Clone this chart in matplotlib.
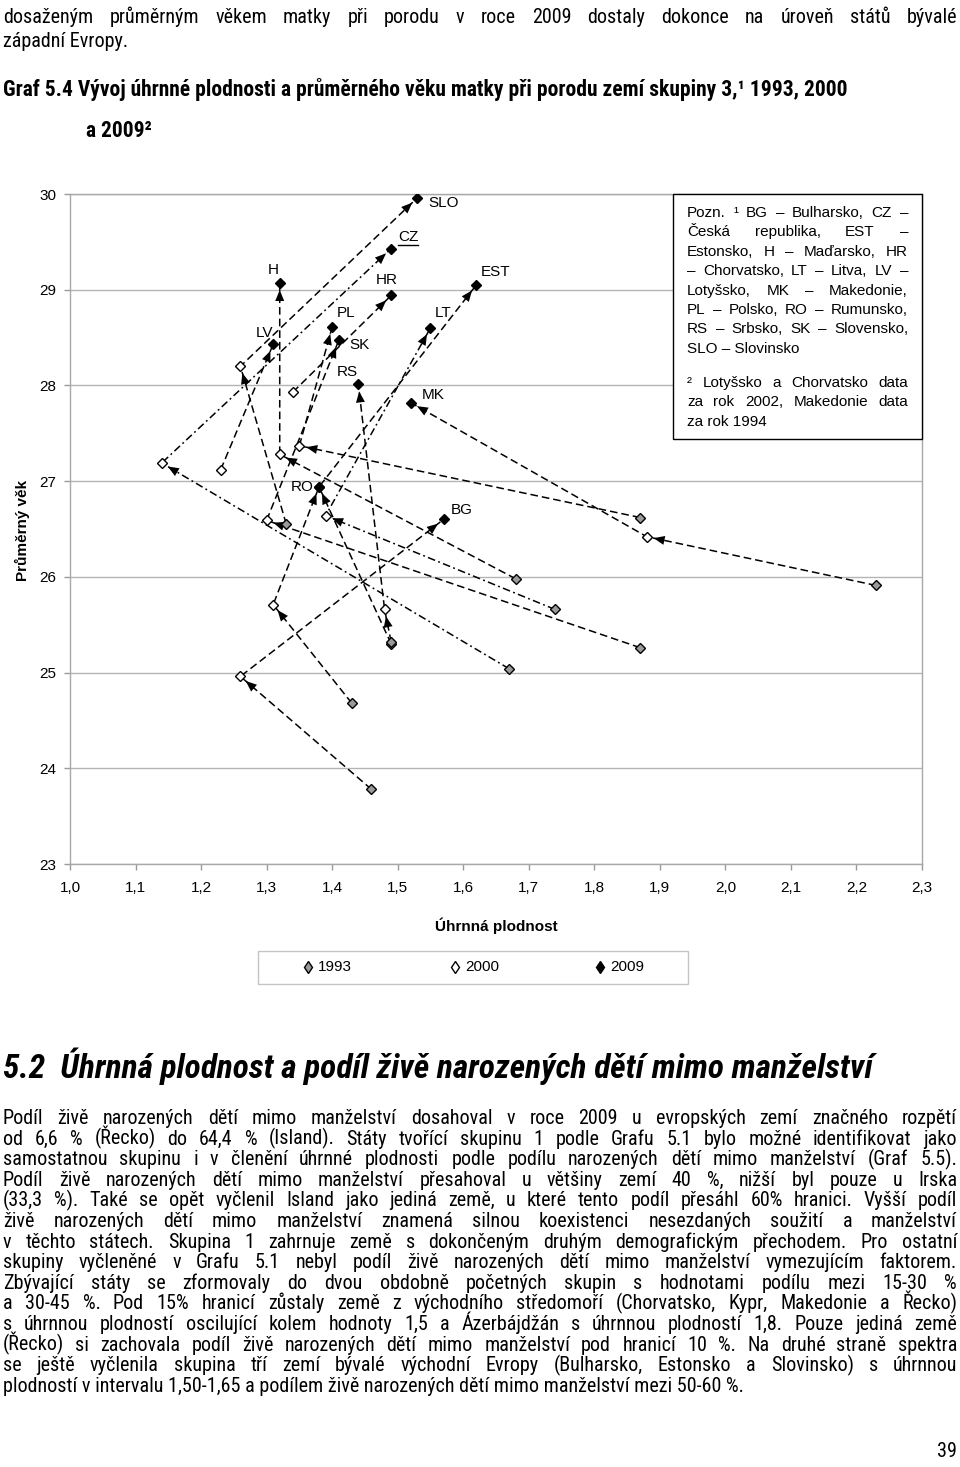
import numpy as np
import matplotlib
matplotlib.use('Agg')
import matplotlib.pyplot as plt
from matplotlib import font_manager as fm
from matplotlib.patches import Rectangle
from matplotlib.lines import Line2D

# --- data (TFR, mean age of mother) ---
countries = ['BG', 'CZ', 'EST', 'H', 'HR', 'LT', 'LV', 'MK', 'PL', 'RO', 'RS', 'SK', 'SLO']
tfr_1993 = [1.46, 1.67, 1.49, 1.68, None, 1.74, None, 2.23, 1.87, 1.43, 1.49, 1.87, 1.33]
age_1993 = [23.78, 25.04, 25.30, 25.98, None, 25.66, None, 25.91, 26.62, 24.68, 25.32, 25.26, 26.55]
tfr_2000 = [1.26, 1.14, 1.38, 1.32, 1.34, 1.39, 1.23, 1.88, 1.35, 1.31, 1.48, 1.30, 1.26]
age_2000 = [24.96, 27.19, 26.94, 27.28, 27.93, 26.64, 27.12, 26.42, 27.37, 25.71, 25.66, 26.59, 28.20]
tfr_2009 = [1.57, 1.49, 1.62, 1.32, 1.49, 1.55, 1.31, 1.52, 1.40, 1.38, 1.44, 1.41, 1.53]
age_2009 = [26.60, 29.43, 29.05, 29.07, 28.94, 28.60, 28.43, 27.82, 28.61, 26.94, 28.01, 28.47, 29.96]
dashdot_countries = ['CZ', 'LT']

x_ticks = [1.0, 1.1, 1.2, 1.3, 1.4, 1.5, 1.6, 1.7, 1.8, 1.9, 2.0, 2.1, 2.2, 2.3]
y_ticks = [23, 24, 25, 26, 27, 28, 29, 30]
legend_years = ['1993', '2000', '2009']

# label offsets (pixels) from the 2009 marker
label_off = {'BG': (18, 9), 'CZ': (17, 12), 'EST': (19, 13), 'H': (-6, 13), 'HR': (-4, 15),
             'LT': (13, 15), 'LV': (-9, 11), 'MK': (22, 8), 'PL': (14, 14), 'RO': (-17, 0),
             'RS': (-11, 12), 'SK': (21, -5), 'SLO': (26, -5)}

# --- page texts ---
top_line1 = 'dosaženým průměrným věkem matky při porodu v roce 2009 dostaly dokonce na úroveň států bývalé'
top_line2 = 'západní Evropy.'
graf_title = 'Graf 5.4 Vývoj úhrnné plodnosti a průměrného věku matky při porodu zemí skupiny 3,¹ 1993, 2000'
graf_title2 = 'a 2009²'
section_title = '5.2  Úhrnná plodnost a podíl živě narozených dětí mimo manželství'
paragraph = [
    'Podíl živě narozených dětí mimo manželství dosahoval v roce 2009 u evropských zemí značného rozpětí',
    'od 6,6 % (Řecko) do 64,4 % (Island). Státy tvořící skupinu 1 podle Grafu 5.1 bylo možné identifikovat jako',
    'samostatnou skupinu i v členění úhrnné plodnosti podle podílu narozených dětí mimo manželství (Graf 5.5).',
    'Podíl živě narozených dětí mimo manželství přesahoval u většiny zemí 40 %, nižší byl pouze u Irska',
    '(33,3 %). Také se opět vyčlenil Island jako jediná země, u které tento podíl přesáhl 60% hranici. Vyšší podíl',
    'živě narozených dětí mimo manželství znamená silnou koexistenci nesezdaných soužití a manželství',
    'v těchto státech. Skupina 1 zahrnuje země s dokončeným druhým demografickým přechodem. Pro ostatní',
    'skupiny vyčleněné v Grafu 5.1 nebyl podíl živě narozených dětí mimo manželství vymezujícím faktorem.',
    'Zbývající státy se zformovaly do dvou obdobně početných skupin s hodnotami podílu mezi 15-30 %',
    'a 30-45 %. Pod 15% hranicí zůstaly země z východního středomoří (Chorvatsko, Kypr, Makedonie a Řecko)',
    's úhrnnou plodností oscilující kolem hodnoty 1,5 a Ázerbájdžán s úhrnnou plodností 1,8. Pouze jediná země',
    '(Řecko) si zachovala podíl živě narozených dětí mimo manželství pod hranicí 10 %. Na druhé straně spektra',
    'se ještě vyčlenila skupina tří zemí bývalé východní Evropy (Bulharsko, Estonsko a Slovinsko) s úhrnnou',
    'plodností v intervalu 1,50-1,65 a podílem živě narozených dětí mimo manželství mezi 50-60 %.',
]
note_lines = [
    'Pozn. ¹ BG – Bulharsko, CZ –',
    'Česká republika, EST –',
    'Estonsko, H – Maďarsko, HR',
    '– Chorvatsko, LT – Litva, LV –',
    'Lotyšsko, MK – Makedonie,',
    'PL – Polsko, RO – Rumunsko,',
    'RS – Srbsko, SK – Slovensko,',
    'SLO – Slovinsko',
]
note_lines2 = [
    '² Lotyšsko a Chorvatsko data',
    'za rok 2002, Makedonie data',
    'za rok 1994',
]

plt.rcParams['font.family'] = ['Liberation Sans', 'DejaVu Sans']


def pick_narrow():
    entries = fm.fontManager.ttflist
    names = {f.name for f in entries}
    for p in ['Liberation Sans Narrow', 'Arial Narrow', 'Roboto Condensed', 'Noto Sans Condensed',
              'Open Sans Condensed', 'DejaVu Sans Condensed']:
        if p in names:
            return dict(family=[p, 'DejaVu Sans'])
    for fam in ['Noto Sans', 'Roboto', 'DejaVu Sans', 'Open Sans', 'Liberation Sans']:
        for f in entries:
            if f.name == fam and f.stretch == 'condensed':
                return dict(family=[fam, 'DejaVu Sans'], stretch='condensed')
    return None


narrow = pick_narrow()
body_kw = narrow if narrow else dict(family=['Liberation Sans', 'DejaVu Sans'])

W, H = 960, 1467
fig = plt.figure(figsize=(W / 100, H / 100), dpi=100)
renderer = fig.canvas.get_renderer()


def fx(x):
    return x / W


def fy(y):
    return 1 - y / H


def text_width(s, **kw):
    t = fig.text(0, 0, s, **kw)
    w = t.get_window_extent(renderer=renderer).width
    t.remove()
    return w


def fit_size(lines, target, base, cap, **kw):
    worst = max(text_width(l, size=base, **kw) for l in lines)
    return min(cap, base * target * 0.99 / worst)


def put_justified(line, x0, x1, yb, **kw):
    words = line.split(' ')
    ws = [text_width(w, **kw) for w in words]
    gap = (x1 - x0 - sum(ws)) / max(len(words) - 1, 1)
    x = x0
    for w, wd in zip(words, ws):
        fig.text(fx(x), fy(yb), w, ha='left', va='baseline', **kw)
        x += wd + gap


# --- chart ---
ax = fig.add_axes([fx(70), fy(864), (922 - 70) / W, (864 - 194) / H])
ax.set_xlim(1.0, 2.3)
ax.set_ylim(23, 30)
ax.set_xticks(x_ticks)
ax.set_xticklabels([f'{v:.1f}'.replace('.', ',') for v in x_ticks])
ax.set_yticks(y_ticks)
ax.tick_params(axis='both', colors='#9a9a9a', labelcolor='black', labelsize=11, length=4, width=1)
ax.tick_params(axis='x', pad=8)
ax.tick_params(axis='y', pad=6)
for s in ax.spines.values():
    s.set_color('#a8a8a8')
    s.set_linewidth(1)
for y in y_ticks:
    ax.axhline(y, color='#b4b4b4', lw=1, zorder=0)


def arrow_head(p0, p1, gap=7, length=11, half=4.5):
    T = ax.transData
    a = T.transform(p0)
    b = T.transform(p1)
    d = b - a
    u = d / np.hypot(*d)
    v = np.array([-u[1], u[0]])
    tip = b - u * gap
    base = tip - u * length
    pts = T.inverted().transform(np.array([tip, base + v * half, base - v * half]))
    ax.fill(pts[:, 0], pts[:, 1], color='black', lw=0, zorder=4)


for i, c in enumerate(countries):
    ls = (0, (5, 2.2, 1.2, 2.2)) if c in dashdot_countries else (0, (5, 2.6))
    pts = []
    if tfr_1993[i] is not None:
        pts.append((tfr_1993[i], age_1993[i]))
    pts.append((tfr_2000[i], age_2000[i]))
    pts.append((tfr_2009[i], age_2009[i]))
    xs, ys = zip(*pts)
    ax.plot(xs, ys, color='black', lw=1.1, linestyle=ls, zorder=3)
    for p0, p1 in zip(pts[:-1], pts[1:]):
        arrow_head(p0, p1)

mk = dict(marker='D', ms=5, mew=1, mec='black', linestyle='none', zorder=5)
ax.plot([v for v in tfr_1993 if v is not None], [v for v in age_1993 if v is not None], mfc='#9a9a9a', **mk)
ax.plot(tfr_2000, age_2000, mfc='white', **mk)
ax.plot(tfr_2009, age_2009, mfc='black', **mk)

labels = {}
for i, c in enumerate(countries):
    dx, dy = label_off[c]
    labels[c] = ax.annotate(c, (tfr_2009[i], age_2009[i]), xytext=(dx, dy), textcoords='offset pixels',
                            ha='center', va='center', fontsize=11, zorder=6)

# the CZ label is underlined in the source
bb = labels['CZ'].get_window_extent(renderer=renderer)
fig.add_artist(Line2D([bb.x0 / W, bb.x1 / W], [(bb.y0 - 1) / H, (bb.y0 - 1) / H],
                      color='black', lw=1))

fig.text(fx(22), fy(530), 'Průměrný věk', rotation=90, ha='center', va='center',
         fontsize=11, fontweight='bold')
fig.text(fx(496), fy(926), 'Úhrnná plodnost', ha='center', va='center', fontsize=11, fontweight='bold')

# legend
lax = fig.add_axes([fx(257), fy(984), (688 - 257) / W, (984 - 950) / H])
lax.set_xlim(257, 688)
lax.set_ylim(984, 950)
lax.axis('off')
lax.add_patch(Rectangle((257.5, 950.5), 430, 33, fc='white', ec='#c4c4c4', lw=1, clip_on=False))
leg_fill = ['#9a9a9a', 'white', 'black']
leg_x = [308, 455, 600]
for yr, fc, lx in zip(legend_years, leg_fill, leg_x):
    lax.plot([lx], [967], marker='d', ms=6.5, mfc=fc, mec='black', mew=1, linestyle='none')
    lax.text(lx + 10, 967, yr, ha='left', va='center', fontsize=11)

# note box
fig.add_artist(Rectangle((fx(673), fy(439)), (922 - 673) / W, (439 - 194) / H,
                         transform=fig.transFigure, fc='white', ec='black', lw=1, zorder=5))
note_kw = dict(family=['Liberation Sans', 'DejaVu Sans'], zorder=6)
note_size = fit_size(note_lines[:-1] + note_lines2[:-1], 221, 10.8, 11, **note_kw)
for k, line in enumerate(note_lines):
    yb = 217 + 19.4 * k
    if k < len(note_lines) - 1:
        put_justified(line, 687, 908, yb, size=note_size, **note_kw)
    else:
        fig.text(fx(687), fy(yb), line, va='baseline', size=note_size, **note_kw)
for k, line in enumerate(note_lines2):
    yb = 387 + 19.4 * k
    if k < len(note_lines2) - 1:
        put_justified(line, 687, 908, yb, size=note_size, **note_kw)
    else:
        fig.text(fx(687), fy(yb), line, va='baseline', size=note_size, **note_kw)

# --- page text ---
body_size = fit_size([top_line1] + paragraph[:-1], 954, 12.5, 14.5, **body_kw)
put_justified(top_line1, 3, 957, 23, size=body_size, **body_kw)
fig.text(fx(3), fy(47), top_line2, va='baseline', size=body_size, **body_kw)

head_kw = dict(body_kw, weight='bold')
w_head = text_width(graf_title, size=12, **head_kw)
head_size = min(15.5, 12 * 923 / w_head)
fig.text(fx(3), fy(96), graf_title, va='baseline', size=head_size, **head_kw)
fig.text(fx(86), fy(137), graf_title2, va='baseline', size=head_size, **head_kw)

sec_kw = dict(body_kw, weight='bold', style='italic')
w_sec = text_width(section_title, size=19, **sec_kw)
sec_size = min(24, 19 * 875 / w_sec)
fig.text(fx(3), fy(1078), section_title, va='baseline', size=sec_size, **sec_kw)

for k, line in enumerate(paragraph):
    yb = 1124 + 20.6 * k
    if k < len(paragraph) - 1:
        put_justified(line, 3, 957, yb, size=body_size, **body_kw)
    else:
        fig.text(fx(3), fy(yb), line, va='baseline', size=body_size, **body_kw)

fig.text(fx(957), fy(1457), '39', ha='right', va='baseline', size=body_size, **body_kw)

fig.savefig('out.png', dpi=100)
